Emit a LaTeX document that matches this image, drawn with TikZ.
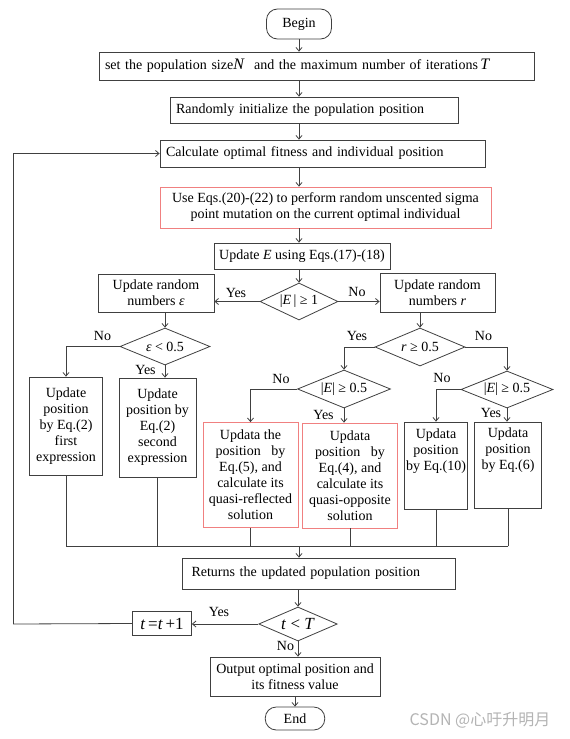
\documentclass[tikz,border=0pt]{standalone}
\usepackage{fontspec}
\setmainfont{Liberation Serif}
\newfontfamily\cjk{Noto Sans CJK SC}
\usetikzlibrary{shapes.geometric, arrows.meta}

\definecolor{linegray}{HTML}{404040}
\definecolor{boxred}{HTML}{F08080}
\definecolor{markgray}{HTML}{B4B4B4}

\tikzset{
  box/.style={draw=linegray, line width=0.8pt, align=center, inner sep=0pt, font=\fontsize{14}{16}\selectfont},
  redbox/.style={box, draw=boxred},
  leftbox/.style={box, align=left, inner xsep=6pt},
  dec/.style={box, diamond, aspect=2},
  term/.style={box, rounded corners=11pt},
  wire/.style={draw=linegray, line width=0.8pt},
  arr/.style={wire, -{Straight Barb[length=3.5pt,width=6pt]}},
  lab/.style={font=\fontsize{14}{16}\selectfont, inner sep=0pt}
}

\begin{document}
\begin{tikzpicture}[x=1pt, y=-1pt]

        % page
        \fill[white] (0,0) rectangle (570,739);
        \useasboundingbox (0,0) rectangle (570,739);

        % Main column
        \node[term, minimum width=65, minimum height=30] (begin) at (299,24) {Begin};
        \node[leftbox, text width=423, minimum height=28] (init) at (316.5,66)
          {set the population size{\fontsize{16}{16}\selectfont\textit{N}}~ and the maximum number of iterations\,{\fontsize{16}{16}\selectfont\textit{T}}};
        \node[leftbox, text width=276, minimum height=26] (rand) at (314,110) {Randomly initialize the population position};
        \node[leftbox, text width=313, minimum height=27] (calc) at (322.5,153.5) {Calculate optimal fitness and individual position};
        \node[redbox, minimum width=331, minimum height=41] (mut) at (325.5,207.5)
          {Use Eqs.(20)-(22) to perform random unscented sigma\\point mutation on the current optimal individual};
        \node[box, minimum width=176, minimum height=26] (upE) at (302,256) {Update \textit{E} using Eqs.(17)-(18)};
        \node[dec, minimum width=78, minimum height=37] (dE) at (299,301.5) {|\textit{E}\,|~≥~1};

        % Branches after |E| >= 1
        \node[box, minimum width=116, minimum height=38] (upeps) at (156,293) {Update random\\numbers \textit{ε}};
        \node[box, minimum width=115, minimum height=39] (upr) at (437.5,292.5) {Update random\\numbers \textit{r}};
        \node[dec, minimum width=90, minimum height=37] (deps) at (165,346.5) {\textit{ε} < 0.5};
        \node[dec, minimum width=90, minimum height=38] (dr) at (420,347) {\textit{r} ≥ 0.5};
        \node[dec, minimum width=93, minimum height=38] (dEa) at (344,389) {|\textit{E}| ≥ 0.5};
        \node[dec, minimum width=92, minimum height=37] (dEb) at (507,389.5) {|\textit{E}| ≥ 0.5};

        % Position updates
        \node[box, minimum width=73.5, minimum height=98] (pos1) at (66,426) {Update\\position\\by Eq.(2)\\first\\expression};
        \node[box, minimum width=77, minimum height=99] (pos2) at (157.5,427.5) {Update\\position by\\Eq.(2)\\second\\expression};
        \node[redbox, minimum width=95, minimum height=105] (refl) at (250.5,475)
          {Updata the\\position~~~by\\Eq.(5), and\\calculate its\\quasi-reflected\\solution};
        \node[redbox, minimum width=95.5, minimum height=105] (oppo) at (350,475.5)
          {Updata\\position~~~by\\Eq.(4), and\\calculate its\\quasi-opposite\\solution};
        \node[box, minimum width=63, minimum height=87] (pos10) at (436,465.5) {Updata\\position\\by Eq.(10)\\\mbox{}\\\mbox{}};
        \node[box, minimum width=67.5, minimum height=86] (pos6) at (508,465) {Updata\\position\\by Eq.(6)\\\mbox{}\\\mbox{}};

        % Loop end
        \coordinate (join) at (299,546);
        \node[leftbox, inner xsep=9.5pt, text width=254, minimum height=31] (ret) at (318.5,573.5) {Returns the updated population position};
        \node[dec, minimum width=78.5, minimum height=34, font=\fontsize{17}{17}\selectfont] (dt) at (298,624) {\textit{t} < \textit{T}};
        \node[box, minimum width=59, minimum height=23.5, font=\fontsize{17}{17}\selectfont] (tinc) at (162,623.5) {\textit{t}\,=\textit{t}\,+1};
        \node[box, minimum width=170, minimum height=39] (out) at (295,676.5) {Output optimal position and\\its fitness value};
        \node[term, minimum width=59.5, minimum height=23] (end) at (295,718.5) {End};
        \coordinate (loop) at (13.5,624);

        % Connectors
        \draw[arr] (begin.south) -- (init.north -| begin);
        \draw[arr] (init.south -| begin) -- (rand.north -| begin);
        \draw[arr] (rand.south -| begin) -- (calc.north -| begin);
        \draw[arr] (calc.south -| begin) -- (mut.north -| begin);
        \draw[arr] (mut.south -| begin) -- (upE.north -| begin);
        \draw[arr] (upE.south -| dE) -- (dE.north);
        \draw[arr] (dE.west) -- (dE.west -| upeps.east);
        \draw[arr] (dE.east) -- (dE.east -| upr.west);
        \draw[arr] (upeps.south -| deps) -- (deps.north);
        \draw[arr] (upr.south -| dr) -- (dr.north);
        \draw[arr] (deps.west) -| (pos1.north);
        \draw[arr] (deps.south) -- (deps.south |- pos2.north);
        \draw[arr] (dr.west) -| (dEa.north);
        \draw[arr] (dr.east) -| (dEb.north);
        \draw[arr] (dEa.west) -| (refl.north);
        \draw[arr] (dEa.south) -- (dEa.south |- oppo.north);
        \draw[arr] (dEb.west) -| (pos10.north);
        \draw[arr] (dEb.south) -- (dEb.south |- pos6.north);
        \foreach \b in {pos1,pos2,refl,oppo,pos10,pos6}
          \draw[wire] (\b.south) -- (\b.south |- join);
        \draw[wire, line cap=rect] (pos1.south |- join) -- (pos6.south |- join);
        \draw[arr] (join) -- (ret.north -| join);
        \draw[arr] (ret.south -| dt) -- (dt.north);
        \draw[arr] (dt.west) -- (dt.west -| tinc.east);
        \draw[arr] (tinc.west) -- (loop) |- (calc.west);
        \draw[arr] (dt.south) -- (dt.south |- out.north);
        \draw[arr] (out.south) -- (end.north);

        % Yes / No labels
        \node[lab] at (236,293) {Yes};
        \node[lab] at (357,292) {No};
        \node[lab] at (102.5,336) {No};
        \node[lab] at (145.5,370) {Yes};
        \node[lab] at (357,336) {Yes};
        \node[lab] at (483.5,336) {No};
        \node[lab] at (281,379) {No};
        \node[lab] at (323.5,415) {Yes};
        \node[lab] at (442,378) {No};
        \node[lab] at (491,413) {Yes};
        \node[lab] at (219,612) {Yes};
        \node[lab] at (285.5,646) {No};

        % watermark
        \node[font=\cjk\fontsize{16}{16}\selectfont, text=markgray, inner sep=0pt] (mark) at (480,720) {CSDN @心吁升明月};

      \end{tikzpicture}
\end{document}
